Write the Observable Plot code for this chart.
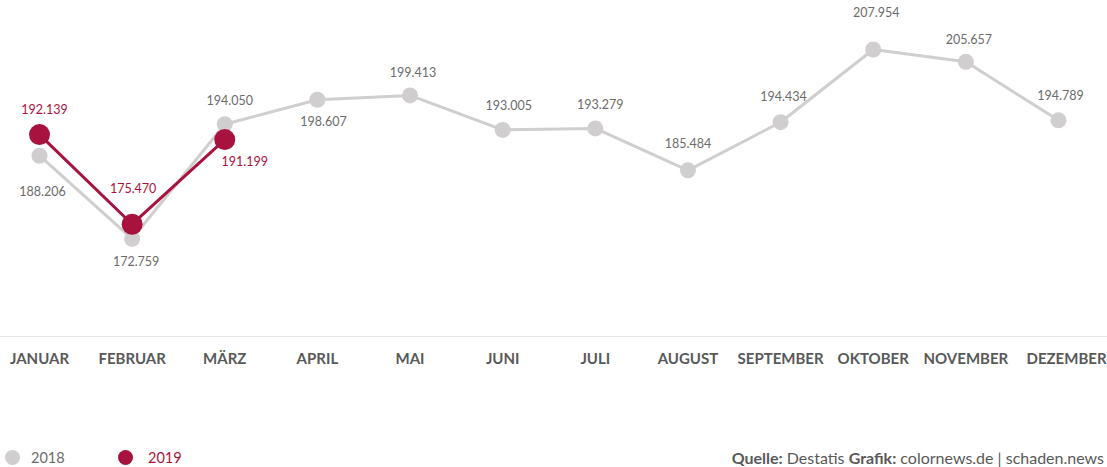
<!DOCTYPE html>
<html>
<head>
<meta charset="utf-8">
<script src="https://cdn.jsdelivr.net/npm/d3@7"></script>
<script src="https://cdn.jsdelivr.net/npm/@observablehq/plot@0.6"></script>
<style>
  body { margin: 0; background: #fff; font-family: Lato, "Open Sans", sans-serif; }
  #wrap { width: 1107px; position: relative; }
  #foot { position: relative; width: 1107px; height: 35px; }
  .leg { position: absolute; top: 0; height: 35px; display: flex; align-items: center; font-size: 14.5px; }
  .dot { width: 15px; height: 15px; border-radius: 50%; display: inline-block; }
  #src { position: absolute; right: 3px; top: 0; height: 35px; display: flex; align-items: center; font-size: 16px; color: #595959; white-space: pre; }
</style>
</head>
<body>
<div id="wrap">
  <div id="chart"></div>
  <div id="foot">
    <div class="leg" style="left:5px;"><span class="dot" style="background:#d0cece"></span><span style="margin-left:11px;color:#6b6b6b">2018</span></div>
    <div class="leg" style="left:118px;"><span class="dot" style="background:#a8123e"></span><span style="margin-left:15px;color:#a8123e">2019</span></div>
    <div id="src"><b>Quelle:</b> Destatis <b>Grafik:</b> colornews.de | schaden.news</div>
  </div>
</div>
<script>
// ---- data ----
const months = ["JANUAR","FEBRUAR","MÄRZ","APRIL","MAI","JUNI","JULI","AUGUST","SEPTEMBER","OKTOBER","NOVEMBER","DEZEMBER"];
const values2018 = [188206, 172759, 194050, 198607, 199413, 193005, 193279, 185484, 194434, 207954, 205657, 194789];
const values2019 = [192139, 175470, 191199];
const yDomain = [154600, 217060];

// ---- layout (label offsets, not data) ----
const off2018 = [[3,36],[4,23],[5,-23],[6,22],[3,-22],[6,-24],[5,-23],[0,-26],[3,-25],[3,-36],[3,-22],[2,-24]];
const off2019 = [[5,-25],[1,-35],[20,22]];

const fmt = d3.formatLocale({decimal: ",", thousands: ".", grouping: [3], currency: ["", "€"]}).format(",d");

const grey = "#d0cece", red = "#a8123e";
const d2018 = months.map((m, i) => ({month: m, value: values2018[i]}));
const d2019 = values2019.map((v, i) => ({month: months[i], value: v}));

const labelMarks = [];
d2018.forEach((d, i) => labelMarks.push(Plot.text([d], {x: "month", y: "value", text: d => fmt(d.value), dx: off2018[i][0], dy: off2018[i][1], fill: "#6b6b6b", fontSize: 12.5})));
d2019.forEach((d, i) => labelMarks.push(Plot.text([d], {x: "month", y: "value", text: d => fmt(d.value), dx: off2019[i][0], dy: off2019[i][1], fill: red, fontSize: 12.5})));

const monthMarks = months.map((m) => Plot.text([m], {x: d => d, y: () => yDomain[0], dy: 23, dx: m === "DEZEMBER" ? 8 : 0, text: d => d, fontWeight: "bold", fontSize: 15, fill: "#595959"}));

const chart = Plot.plot({
  width: 1107,
  height: 440,
  marginTop: 0, marginBottom: 0, marginLeft: 0, marginRight: 0,
  style: {fontFamily: "Lato, 'Open Sans', sans-serif", background: "#fff"},
  x: {type: "point", domain: months, range: [39, 1058], padding: 0, round: false, axis: null},
  y: {domain: yDomain, range: [336, 0], axis: null},
  marks: [
    Plot.ruleY([yDomain[0]], {stroke: "#e6e6e6", strokeWidth: 1}),
    Plot.line(d2018, {x: "month", y: "value", stroke: grey, strokeWidth: 3}),
    Plot.dot(d2018, {x: "month", y: "value", r: 8, fill: grey}),
    Plot.line(d2019, {x: "month", y: "value", stroke: red, strokeWidth: 3}),
    Plot.dot(d2019, {x: "month", y: "value", r: 10.5, fill: red}),
    ...labelMarks,
    ...monthMarks
  ]
});
document.getElementById("chart").appendChild(chart);
</script>
</body>
</html>
